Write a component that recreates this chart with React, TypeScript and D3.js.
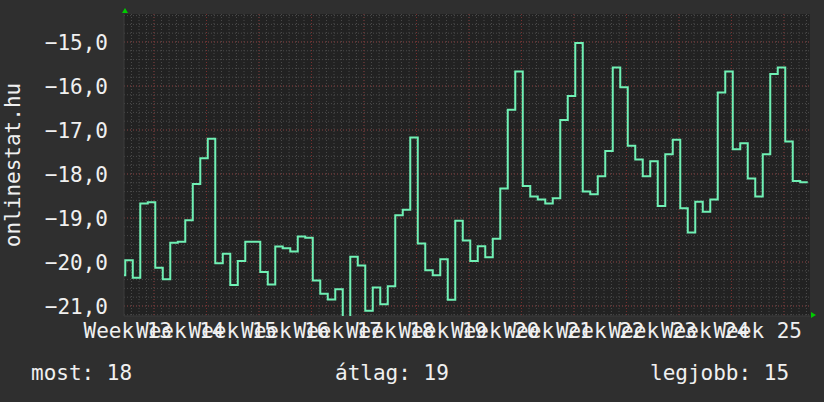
import * as React from "react";
import * as d3 from "d3";

// daily ranking values (negated), one per day, oldest first
const rankValues = [
    -20.30, -19.96, -20.36, -18.67, -18.64, -20.13, -20.39, -19.56, -19.54, -19.05,
    -18.23, -17.64, -17.20, -20.03, -19.81, -20.52, -19.98, -19.54, -19.54, -20.23,
    -20.51, -19.65, -19.69, -19.76, -19.42, -19.45, -20.42, -20.72, -20.85, -20.62,
    -21.25, -19.88, -20.08, -21.11, -20.58, -20.96, -20.55, -18.94, -18.81, -17.17,
    -19.58, -20.19, -20.30, -19.94, -20.86, -19.06, -19.51, -19.98, -19.64, -19.89,
    -19.47, -18.33, -16.54, -15.67, -18.27, -18.51, -18.58, -18.67, -18.55, -16.77,
    -16.23, -15.02, -18.40, -18.46, -18.05, -17.48, -15.58, -16.03, -17.36, -17.67,
    -18.05, -17.71, -18.73, -17.55, -17.22, -18.78, -19.33, -18.63, -18.86, -18.58,
    -16.15, -15.67, -17.44, -17.30, -18.10, -18.51, -17.55, -15.73, -15.58, -17.26,
    -18.16, -18.19,
];

const weekLabels = ["Week 13", "Week 14", "Week 15", "Week 16", "Week 17", "Week 18", "Week 19",
    "Week 20", "Week 21", "Week 22", "Week 23", "Week 24", "Week 25"];
const yTicks = [-15, -16, -17, -18, -19, -20, -21];
const yTitle = "onlinestat.hu";
const legendNames = ["most", "átlag", "legjobb"];

const W = 824, H = 402;
const left = 124, right = 810, top = 14, bottom = 316;
const daySpan = 91.47;
const stepOffset = 0.17;
const font = "'DejaVu Sans Mono', monospace";

export default function App() {
    const x = d3.scaleLinear().domain([0, daySpan]).range([left, right]);
    const y = d3.scaleLinear().domain([-15, -21]).range([42, 306]);

    const pts: [number, number][] = rankValues.map((v, i) => [Math.max(0, i - 1 + stepOffset), v]);
    pts.push([rankValues.length - 1 + stepOffset, rankValues[rankValues.length - 1]]);

    const line = d3.line<[number, number]>()
        .x(d => x(d[0]))
        .y(d => y(d[1]))
        .curve(d3.curveStepAfter);

    const minorX = d3.range(1, Math.floor(daySpan) + 1);
    const majorX = d3.range(4, daySpan, 7);
    const yMin = y.invert(bottom), yMax = y.invert(top);
    const minorY = d3.range(Math.ceil(yMin * 5), Math.floor(yMax * 5) + 1).map(v => v / 5);

    const last = rankValues[rankValues.length - 1];
    const avg = d3.mean(rankValues) || 0;
    const best = d3.max(rankValues) || 0;
    const legendVals = [last, avg, best].map(v => Math.round(Math.abs(v)));
    const legendX = [31, 335, 650];

    return <svg width={W} height={H} style={{ position: "absolute", left: 0, top: 0 }} fontFamily={font}>
        <rect width={W} height={H} fill="#2f2f2f" />
        <rect x={left} y={top} width={right - left} height={bottom - top} fill="#222222" />
        <defs>
            <clipPath id="plot">
                <rect x={left} y={top} width={right - left} height={bottom - top} />
            </clipPath>
        </defs>
        {minorX.map(d => <line key={"mx" + d} x1={x(d)} x2={x(d)} y1={top} y2={bottom}
            stroke="#4a4a4a" strokeWidth={1} strokeDasharray="1,2" />)}
        {minorY.map(v => <line key={"my" + v} x1={left} x2={right} y1={y(v)} y2={y(v)}
            stroke="#4a4a4a" strokeWidth={1} strokeDasharray="1,2" />)}
        {majorX.map(d => <line key={"Mx" + d} x1={x(d)} x2={x(d)} y1={top} y2={bottom}
            stroke="#7a3030" strokeWidth={1} strokeDasharray="1,2" />)}
        {yTicks.map(v => <line key={"My" + v} x1={left} x2={right} y1={y(v)} y2={y(v)}
            stroke="#7a3030" strokeWidth={1} strokeDasharray="1,2" />)}
        <line x1={left} x2={left} y1={top} y2={bottom} stroke="#3c3c3c" />
        <line x1={left} x2={right} y1={bottom} y2={bottom} stroke="#3c3c3c" />
        <path d={line(pts) || ""} fill="none" stroke="#6ff0b4" strokeWidth={2} clipPath="url(#plot)" />
        <polygon points={`${left - 2},13 ${left + 4},13 ${left + 1},8`} fill="#00cc00" />
        <polygon points={`${right + 1},312 ${right + 1},318 ${right + 6},315`} fill="#00cc00" />
        {yTicks.map(v => <text key={"yl" + v} x={108} y={y(v)} dy="0.36em" textAnchor="end"
            fill="#f0f0f0" fontSize={21}>{d3.format(".1f")(v).replace(".", ",")}</text>)}
        {weekLabels.map((t, i) => <text key={t} x={x(0.5 + 7 * i)} y={338} textAnchor="middle"
            fill="#f0f0f0" fontSize={21}>{t}</text>)}
        <text transform={`translate(20,${(top + bottom) / 2}) rotate(-90)`} textAnchor="middle"
            fill="#f0f0f0" fontSize={21}>{yTitle}</text>
        {legendNames.map((n, i) => <text key={n} x={legendX[i]} y={380} fill="#f0f0f0" fontSize={21}
            style={{ whiteSpace: "pre" }}>{`${n}: ${legendVals[i]}`}</text>)}
    </svg>;
}
